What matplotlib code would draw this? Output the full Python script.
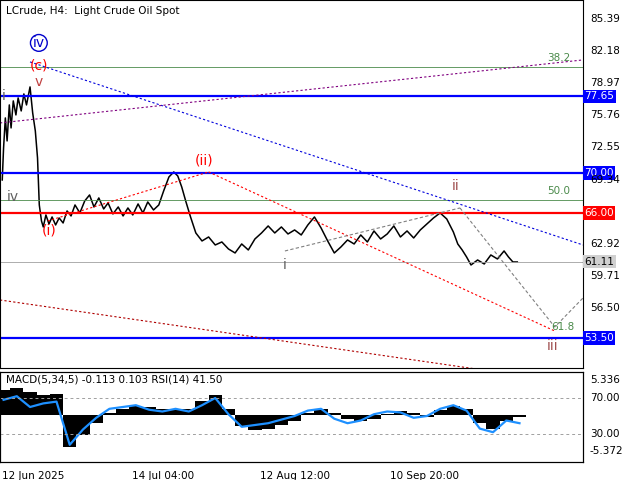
import matplotlib.pyplot as plt

# price path (days since 12 Jun 2025, price)
days = [-1.3, -1.0, -0.6, -0.2, 0.3, 0.7, 1.2, 1.8, 2.3, 3.0, 3.6, 4.2, 5.0, 5.6, 6.2, 6.7, 7.1,
        7.6, 8.0, 8.6, 9.3, 10.0, 10.8, 11.6, 12.5, 13.4, 14.3, 15.2, 16.3, 17.4, 18.5, 19.5,
        20.6, 21.7, 22.7, 23.8, 25.0, 26.1, 27.2, 28.3, 29.5, 30.6, 31.7, 33.0, 34.2, 35.3,
        36.5, 37.6, 38.5, 39.4, 40.3, 41.4, 42.6, 44.0, 45.5, 47.0, 48.5, 50.0, 51.5, 53.0,
        54.5, 56.0, 57.5, 59.0, 60.5, 62.0, 63.5, 65.0, 66.5, 68.0, 69.5, 71.0, 72.5, 74.0,
        75.5, 77.0, 78.5, 80.0, 81.5, 83.0, 84.5, 86.0, 87.5, 89.0, 90.5, 92.0, 93.5, 95.0,
        96.5, 98.0, 99.5, 101.0, 102.0, 103.0, 104.0, 105.0, 106.5, 108.0, 109.5, 111.0,
        112.5, 113.5, 114.5, 115.5]
price = [69.3, 72.5, 75.5, 73.2, 76.8, 74.5, 77.2, 75.8, 77.5, 76.2, 77.9, 76.8, 78.6, 76.0,
         74.2, 71.5, 66.8, 65.2, 64.6, 65.8, 64.9, 65.6, 64.8, 65.5, 65.0, 66.2, 65.7, 66.8,
         66.0, 67.2, 67.8, 66.6, 67.5, 66.4, 67.0, 65.9, 66.6, 65.7, 66.5, 65.8, 66.9, 66.0,
         67.1, 66.3, 66.8, 68.2, 69.6, 70.1, 69.7, 68.6, 67.2, 65.6, 64.0, 63.2, 63.6, 62.8,
         63.1, 62.4, 62.0, 62.9, 62.3, 63.4, 64.0, 64.7, 64.0, 64.6, 63.9, 64.3, 63.8, 64.8,
         65.6, 64.5, 63.2, 62.0, 62.6, 63.3, 62.9, 63.8, 63.1, 64.2, 63.4, 63.9, 64.7, 63.6,
         64.2, 63.5, 64.3, 64.9, 65.5, 66.0, 65.4, 64.1, 62.9, 62.3, 61.6, 60.8, 61.3, 60.9,
         61.8, 61.4, 62.2, 61.6, 61.1, 61.1]

# oscillators
osc_days = list(range(-1, 119, 3))
macd_hist = [3.8, 4.2, 3.5, 3.0, 3.2, -4.8, -3.0, -1.2, 0.3, 1.0, 1.4, 1.3, 1.0, 0.8,
             1.0, 2.2, 3.0, 1.0, -1.6, -2.2, -2.0, -1.5, -0.8, 0.4, 1.0, 0.3, -0.6,
             -0.8, -0.5, 0.2, 0.6, 0.4, -0.2, 0.8, 1.4, 1.0, -1.2, -2.0, -0.9, -0.2]
rsi = [68, 72, 60, 64, 66, 18, 35, 48, 58, 60, 62, 57, 55, 58, 55, 62, 70, 52, 38, 40, 42,
       46, 50, 56, 58, 47, 42, 45, 52, 55, 54, 48, 50, 58, 62, 56, 36, 32, 45, 42]

levels = [(77.65, '#0000ff', 1.6), (70.00, '#0000ff', 1.6), (66.00, '#ff0000', 1.6), (53.50, '#0000ff', 1.6)]
right_ticks = [85.39, 82.18, 78.97, 75.76, 72.55, 69.34, 62.92, 59.71, 56.50]

W = 583 / 640
fig = plt.figure(figsize=(6.4, 4.8), dpi=100)
ax = fig.add_axes([0, 112 / 480, W, 368 / 480])
ax2 = fig.add_axes([0, 18 / 480, W, 90 / 480])
x0, x1 = -1.81, 130.4
for a in (ax, ax2):
    a.set_xlim(x0, x1)
    a.set_xticks([])
    a.set_yticks([])
    for s in a.spines.values():
        s.set_color('black')
        s.set_linewidth(0.8)
ax.set_ylim(50.50, 87.29)

ax.plot(days, price, color='black', lw=1.1)

for v, c, lw in levels:
    ax.axhline(v, color=c, lw=lw)
    ax.text(1.002, v, '%.2f' % v, transform=ax.get_yaxis_transform(), va='center', ha='left',
            fontsize=7.5, color='white', bbox=dict(boxstyle='square,pad=0.15', fc=c, ec='none'))
ax.axhline(61.11, color='#a0a0a0', lw=0.6)
ax.text(1.002, 61.11, '61.11', transform=ax.get_yaxis_transform(), va='center', ha='left',
        fontsize=7.5, color='black', bbox=dict(boxstyle='square,pad=0.15', fc='#d0d0d0', ec='none'))
for v in right_ticks:
    ax.text(1.012, v, '%.2f' % v, transform=ax.get_yaxis_transform(), va='center', ha='left', fontsize=7.5)

# fib lines
ax.axhline(80.6, color='#4a8a4a', lw=0.6)
ax.axhline(67.3, color='#4a8a4a', lw=0.6)
ax.text(127.5, 81.2, '38.2', color='#4a8a4a', fontsize=7.5, ha='right')
ax.text(127.5, 67.9, '50.0', color='#4a8a4a', fontsize=7.5, ha='right')
ax.text(128.5, 54.3, '61.8', color='#4a8a4a', fontsize=7.5, ha='right')

# trend lines
ax.plot([5.0, x1], [81.1, 62.8], color='#0000dd', ls=(0, (2, 2)), lw=0.8)
ax.plot([x0, x1], [75.0, 81.3], color='#800080', ls=(0, (2, 2)), lw=0.8)
ax.plot([45.5, 124], [70.1, 54.2], color='#ff0000', ls=(0, (2, 2)), lw=0.8)
ax.plot([9.0, 45.5], [65.2, 70.1], color='#ff0000', ls=(0, (2, 2)), lw=0.8)
ax.plot([x0, 109.3], [57.3, 50.2], color='#b00000', ls=(0, (2, 2)), lw=0.8)
ax.plot([62.8, 102.5], [62.2, 66.5], color='#808080', ls=(0, (3, 2)), lw=0.8)
ax.plot([102.5, 124, x1], [66.5, 54.6, 57.5], color='#808080', ls=(0, (3, 2)), lw=0.8)

# wave labels
ax.text(7.0, 80.3, '(c)', color='#ff0000', fontsize=10, ha='center')
ax.text(7.0, 78.7, 'v', color='#c04040', fontsize=10, ha='center')
ax.text(7.0, 82.6, 'iv', color='#0000cc', fontsize=10, ha='center',
        bbox=dict(boxstyle='circle,pad=0.1', fc='none', ec='#0000cc'))
ax.text(9.3, 63.8, '(i)', color='#ff0000', fontsize=10, ha='center')
ax.text(44.5, 70.8, '(ii)', color='#ff0000', fontsize=10, ha='center')
ax.text(62.7, 60.4, 'i', color='#606060', fontsize=10, ha='center')
ax.text(101.6, 68.3, 'ii', color='#a05050', fontsize=10, ha='center')
ax.text(123.5, 52.3, 'iii', color='#a05050', fontsize=10, ha='center')
ax.text(1.0, 67.2, 'iv', color='#606060', fontsize=10, ha='center')
ax.text(-1.0, 77.3, 'i', color='#606060', fontsize=10, ha='center')
ax.text(0.01, 0.985, 'LCrude, H4:  Light Crude Oil Spot', transform=ax.transAxes, fontsize=7.5, va='top')

# oscillator panel
ax2.set_ylim(-7.03, 6.54)
ax2.bar(osc_days, macd_hist, width=3.0, color='black')
r = ax2.twinx()
r.set_ylim(-1.1, 98.9)
r.set_yticks([])
r.plot(osc_days, rsi, color='#1e90ff', lw=1.6)
for v in (70, 30):
    r.axhline(v, color='#a0a0a0', ls=(0, (3, 3)), lw=0.7)
    r.text(1.012, v, '%.2f' % v, transform=r.get_yaxis_transform(), va='center', fontsize=7.5)
for v in (5.336, -5.372):
    ax2.text(1.012, v, '%.3f' % v, transform=ax2.get_yaxis_transform(), va='center', fontsize=7.5)
ax2.text(0.01, 0.97, 'MACD(5,34,5) -0.113 0.103 RSI(14) 41.50', transform=ax2.transAxes, fontsize=7.5, va='top')

for d, lab in [(-1.8, '12 Jun 2025'), (27.7, '14 Jul 04:00'), (56.7, '12 Aug 12:00'), (86.2, '10 Sep 20:00')]:
    ax2.text(d + 0.5, -0.1, lab, transform=ax2.get_xaxis_transform(), fontsize=7.5, va='top')

fig.savefig('out.png', dpi=100, facecolor='white')
